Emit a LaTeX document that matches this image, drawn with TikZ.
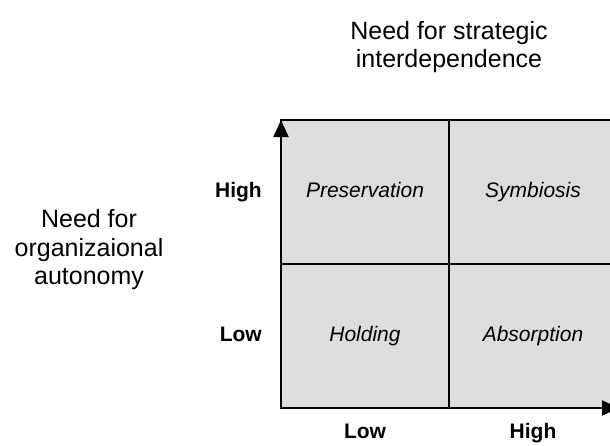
\documentclass[tikz,border=0pt]{standalone}
\usepackage{fontspec}
\setmainfont{Liberation Sans}
\usepackage{xcolor}
\definecolor{cellgrau}{RGB}{221,221,221}
\usepackage{tikz}
\usetikzlibrary{arrows.meta}
\usetikzlibrary{positioning}

\tikzset{
    cell/.style={draw,line width=1.5pt,fill=cellgrau,minimum width=168pt,minimum height=144pt,
        inner sep=0pt,outer sep=0pt,text height=15pt,text depth=4.5pt,
        font=\fontsize{21}{25}\selectfont\itshape},
    lvl/.style={inner sep=0pt,text height=15pt,text depth=4.5pt,font=\fontsize{21}{25}\selectfont\bfseries},
    need/.style={inner sep=0pt,align=center,font=\fontsize{25}{28.5}\selectfont},
    axis/.style={line width=2pt,-{Triangle[length=17pt,width=15pt]}}
}

\begin{document}
\begin{tikzpicture}[x=1pt,y=-1pt]
    \useasboundingbox (0,0) rectangle (610,445);
    \clip (0,0) rectangle (610,445);

    % quadrants
    \node[cell] (pres) at (365,192) {Preservation};
    \node[cell] (symb) [right=0pt of pres] {Symbiosis};
    \node[cell] (hold) [below=0pt of pres] {Holding};
    \node[cell] (absb) [right=0pt of hold] {Absorption};

    % axes
    \draw[axis] (hold.south west) -- (pres.north west);
    \draw[axis] (hold.south west) -- ([xshift=2pt]absb.south east);

    % levels
    \node[lvl] (yhigh) [left=19pt of pres] {High};
    \node[lvl] (ylow)  [left=19pt of hold] {Low};
    \node[lvl] (xlow)  [below=15pt of hold] {Low};
    \node[lvl] (xhigh) [below=15pt of absb] {High};

    % axis titles
    \node[need] (strat) [above=47pt of pres.north east] {Need for strategic\\interdependence};
    \node[need] (auton) at (89,250) {Need for\\organizaional\\autonomy};
\end{tikzpicture}
\end{document}
